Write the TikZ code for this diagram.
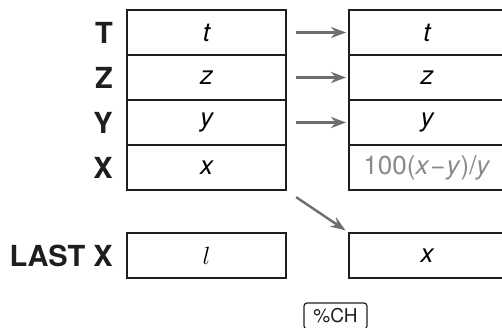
\documentclass[tikz,border=0pt]{standalone}
\usepackage{fontspec}
\setmainfont{TeX Gyre Heros}
\definecolor{ink}{HTML}{1E1E1E}
\definecolor{arrowgray}{HTML}{6E6E6E}
\definecolor{resgray}{HTML}{8A8A8A}
\usetikzlibrary{arrows.meta}
\tikzset{
    cell/.style={draw=ink, line width=2pt, minimum height=45pt, inner sep=0pt,
        font=\fontsize{26}{30}\selectfont\itshape},
    lbl/.style={anchor=east, inner sep=0pt, text=ink, font=\fontsize{29}{32}\selectfont\bfseries},
    arr/.style={draw=arrowgray, line width=2.4pt, -{Stealth[length=15pt, width=11pt]},
        shorten <=9pt, shorten >=2pt}
}
\begin{document}
\begin{tikzpicture}[x=1pt, y=-1pt]
        \useasboundingbox (0,0) rectangle (502,327);
        \clip (0,0) rectangle (502,327);
        % stack before
        \node[cell, minimum width=159pt] (lT) at (206.5,32.5) {t};
        \node[cell, minimum width=159pt] (lZ) at (206.5,77.5) {z};
        \node[cell, minimum width=159pt] (lY) at (206.5,122.5) {y};
        \node[cell, minimum width=159pt] (lX) at (206.5,167.5) {x};
        \node[cell, minimum width=159pt] (lL) at (206.5,255.5) {$l$};
        % stack after
        \node[cell, minimum width=156pt] (rT) at (427,32.5) {t};
        \node[cell, minimum width=156pt] (rZ) at (427,77.5) {z};
        \node[cell, minimum width=156pt] (rY) at (427,122.5) {y};
        \node[cell, minimum width=156pt, text=resgray] (rX) at (427,167.5) {\upshape 100(\textit{x}\kern1pt−\kern1pt\textit{y})/\textit{y}};
        \node[cell, minimum width=156pt] (rL) at (427,255.5) {x};
        % register names
        \node[lbl] (nT) at (113,33) {T};
        \node[lbl] (nZ) at (113,78) {Z};
        \node[lbl] (nY) at (113,123) {Y};
        \node[lbl] (nX) at (113,168) {X};
        \node[lbl] (nL) at (113,256) {LAST X};
        % key
        \node[draw=ink, line width=1.2pt, rounded corners=3pt, minimum width=63pt,
            minimum height=26pt, inner sep=0pt, text=ink,
            font=\fontsize{19}{22}\selectfont] (key) at (335.5,316) {\%CH};
        \foreach \r in {T,Z,Y}
            \draw[arr] (l\r.east) -- (r\r.west);
        \draw[arr, shorten <=11pt, shorten >=3pt] (lX.south east) -- (rL.north west);
    \end{tikzpicture}
\end{document}
